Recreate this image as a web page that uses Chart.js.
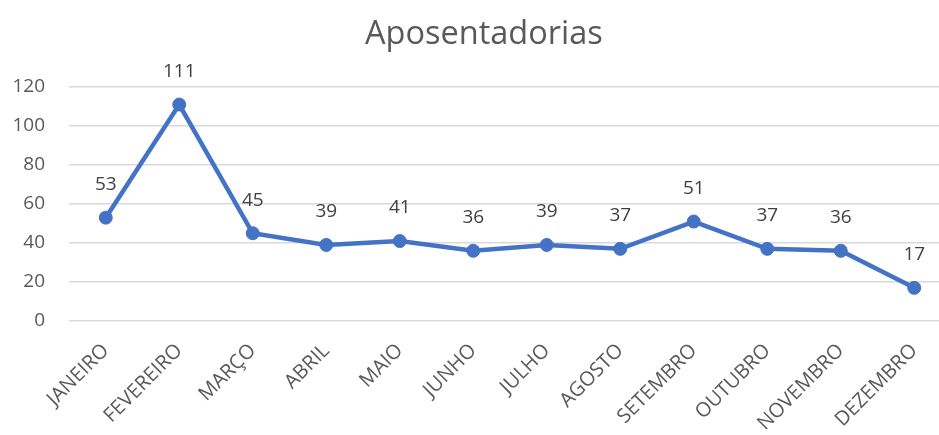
<!DOCTYPE html>
<html>
<head>
<meta charset="utf-8">
<script src="https://cdn.jsdelivr.net/npm/chart.js@4/dist/chart.umd.min.js"></script>
<style>
html,body{margin:0;padding:0;background:#fff;overflow:hidden;width:939px;height:435px;}
canvas{display:block;}
</style>
</head>
<body>
<canvas id="c" width="972" height="435"></canvas>
<script>
const categories = ["JANEIRO","FEVEREIRO","MARÇO","ABRIL","MAIO","JUNHO","JULHO","AGOSTO","SETEMBRO","OUTUBRO","NOVEMBRO","DEZEMBRO"];
const values = [53,111,45,39,41,36,39,37,51,37,36,17];
const yTicks = [0,20,40,60,80,100,120];
const chartTitle = "Aposentadorias";

const FONT = "'Open Sans', 'DejaVu Sans', sans-serif";

const dataLabels = {
  id: 'dataLabels',
  afterDatasetsDraw(chart) {
    const ctx = chart.ctx;
    const meta = chart.getDatasetMeta(0);
    ctx.save();
    ctx.font = "19px " + FONT;
    ctx.fillStyle = "#404040";
    ctx.textAlign = "center";
    ctx.textBaseline = "middle";
    meta.data.forEach((pt, i) => {
      ctx.fillText(String(values[i]), pt.x, pt.y - 33);
    });
    ctx.restore();
  }
};

new Chart(document.getElementById('c'), {
  type: 'line',
  data: {
    labels: categories,
    datasets: [{
      data: values,
      borderColor: '#4472C4',
      backgroundColor: '#4472C4',
      borderWidth: 4.5,
      pointRadius: 6.5,
      pointBackgroundColor: '#4472C4',
      pointBorderColor: '#4472C4',
      pointBorderWidth: 1,
      tension: 0,
      fill: false
    }]
  },
  options: {
    responsive: false,
    animation: false,
    layout: { padding: { left: 0, top: 0, bottom: 0, right: 21 } },
    plugins: {
      legend: { display: false },
      tooltip: { enabled: false },
      title: {
        display: true,
        text: "  " + chartTitle,
        color: '#595959',
        font: { family: FONT, size: 32.5, weight: 'normal' },
        padding: { top: 15, bottom: 33 }
      }
    },
    scales: {
      x: {
        offset: true,
        grid: { display: false, drawTicks: false },
        border: { display: false },
        ticks: {
          color: '#595959',
          font: { family: FONT, size: 20 },
          minRotation: 45,
          maxRotation: 45,
          autoSkip: false,
          padding: 18
        },
        afterFit(scale) { scale.height = 114; scale.paddingLeft = 0; scale.paddingRight = 0; }
      },
      y: {
        min: 0,
        max: 120,
        afterBuildTicks(scale) { scale.ticks = yTicks.map(v => ({ value: v })); },
        grid: { color: '#d9d9d9', lineWidth: 1.5, drawTicks: false },
        border: { display: false },
        ticks: {
          color: '#595959',
          font: { family: FONT, size: 19 },
          padding: 24
        },
        afterFit(scale) { scale.width = 69; }
      }
    }
  },
  plugins: [dataLabels]
});
</script>
</body>
</html>
